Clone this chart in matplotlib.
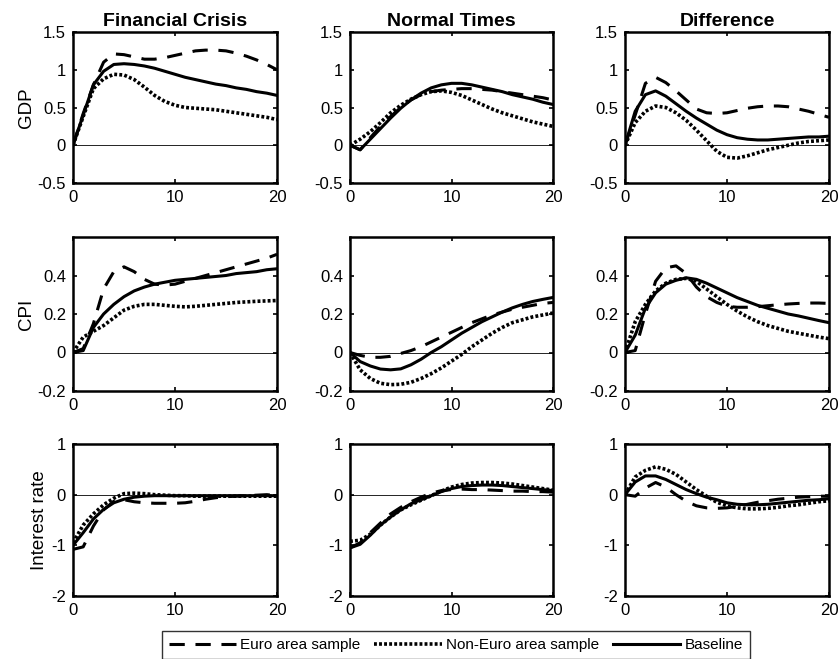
import numpy as np
import matplotlib
matplotlib.use('Agg')
import matplotlib.pyplot as plt

plt.rcParams['font.family'] = ['Liberation Sans', 'DejaVu Sans']

horizon = np.arange(21)

col_titles = ['Financial Crisis', 'Normal Times', 'Difference']
row_labels = ['GDP', 'CPI', 'Interest rate']
series_names = ['Euro area sample', 'Non-Euro area sample', 'Baseline']

# GDP
gdp_fc_euro = [0, 0.42, 0.8, 1.1, 1.21, 1.2, 1.17, 1.14, 1.14, 1.16, 1.19,
               1.22, 1.25, 1.26, 1.26, 1.25, 1.22, 1.18, 1.13, 1.07, 1.0]
gdp_fc_noneuro = [0, 0.38, 0.75, 0.88, 0.94, 0.93, 0.87, 0.77, 0.66, 0.58, 0.53,
                  0.5, 0.49, 0.48, 0.47, 0.45, 0.43, 0.41, 0.39, 0.37, 0.34]
gdp_fc_base = [0, 0.4, 0.8, 0.98, 1.07, 1.08, 1.07, 1.05, 1.02, 0.98, 0.94,
               0.9, 0.87, 0.84, 0.81, 0.79, 0.76, 0.74, 0.71, 0.69, 0.66]

gdp_nt_euro = [0, -0.06, 0.1, 0.25, 0.38, 0.5, 0.6, 0.67, 0.71, 0.73, 0.74,
               0.75, 0.75, 0.74, 0.73, 0.71, 0.69, 0.67, 0.65, 0.63, 0.6]
gdp_nt_noneuro = [0, 0.08, 0.18, 0.3, 0.43, 0.53, 0.61, 0.67, 0.71, 0.72, 0.7,
                  0.66, 0.6, 0.54, 0.48, 0.43, 0.39, 0.35, 0.31, 0.28, 0.25]
gdp_nt_base = [0, -0.06, 0.08, 0.22, 0.36, 0.49, 0.6, 0.69, 0.76, 0.8, 0.82,
               0.82, 0.8, 0.77, 0.74, 0.71, 0.67, 0.64, 0.61, 0.57, 0.54]

gdp_diff_euro = [0, 0.4, 0.82, 0.9, 0.83, 0.72, 0.6, 0.48, 0.43, 0.42, 0.43,
                 0.46, 0.49, 0.51, 0.52, 0.52, 0.51, 0.48, 0.45, 0.41, 0.37]
gdp_diff_noneuro = [0, 0.3, 0.45, 0.52, 0.5, 0.43, 0.33, 0.2, 0.06, -0.08, -0.16,
                    -0.17, -0.14, -0.1, -0.06, -0.03, 0.0, 0.03, 0.05, 0.06, 0.07]
gdp_diff_base = [0, 0.45, 0.67, 0.72, 0.65, 0.55, 0.45, 0.36, 0.28, 0.2, 0.14,
                 0.1, 0.08, 0.07, 0.07, 0.08, 0.09, 0.1, 0.11, 0.11, 0.12]

# CPI
cpi_fc_euro = [0, 0.02, 0.15, 0.33, 0.42, 0.445, 0.42, 0.38, 0.355, 0.35, 0.355,
               0.37, 0.385, 0.4, 0.415, 0.43, 0.445, 0.46, 0.475, 0.49, 0.51]
cpi_fc_noneuro = [0, 0.08, 0.11, 0.14, 0.18, 0.22, 0.24, 0.25, 0.25, 0.245, 0.24,
                  0.237, 0.24, 0.245, 0.25, 0.255, 0.26, 0.263, 0.266, 0.268, 0.27]
cpi_fc_base = [0, 0.01, 0.13, 0.2, 0.25, 0.29, 0.32, 0.34, 0.355, 0.365, 0.375,
               0.38, 0.385, 0.39, 0.395, 0.4, 0.41, 0.415, 0.42, 0.43, 0.435]

cpi_nt_euro = [0, -0.015, -0.025, -0.025, -0.02, -0.005, 0.01, 0.03, 0.055, 0.08, 0.105,
               0.13, 0.155, 0.175, 0.195, 0.21, 0.225, 0.235, 0.245, 0.255, 0.26]
cpi_nt_noneuro = [0, -0.09, -0.135, -0.16, -0.167, -0.165, -0.155, -0.135, -0.11, -0.08, -0.045,
                  -0.01, 0.03, 0.065, 0.1, 0.13, 0.155, 0.17, 0.185, 0.195, 0.205]
cpi_nt_base = [0, -0.047, -0.07, -0.086, -0.09, -0.085, -0.064, -0.035, 0.0, 0.03, 0.065,
               0.1, 0.13, 0.16, 0.185, 0.21, 0.232, 0.25, 0.265, 0.276, 0.286]

cpi_diff_euro = [0, 0.01, 0.2, 0.37, 0.44, 0.45, 0.41, 0.34, 0.29, 0.26, 0.24,
                 0.235, 0.235, 0.238, 0.243, 0.248, 0.252, 0.255, 0.257, 0.257, 0.255]
cpi_diff_noneuro = [0, 0.16, 0.25, 0.32, 0.36, 0.38, 0.385, 0.37, 0.33, 0.29, 0.25,
                    0.215, 0.185, 0.16, 0.14, 0.125, 0.11, 0.1, 0.09, 0.08, 0.072]
cpi_diff_base = [0, 0.09, 0.23, 0.31, 0.355, 0.375, 0.388, 0.38, 0.36, 0.335, 0.31,
                 0.285, 0.265, 0.245, 0.23, 0.215, 0.2, 0.19, 0.178, 0.166, 0.155]

# Interest rate
ir_fc_euro = [-1.08, -1.03, -0.62, -0.3, -0.13, -0.1, -0.14, -0.16, -0.17, -0.17, -0.17,
              -0.16, -0.13, -0.09, -0.06, -0.04, -0.03, -0.02, -0.01, 0.0, -0.02]
ir_fc_noneuro = [-0.95, -0.6, -0.38, -0.2, -0.07, 0.02, 0.03, 0.02, 0.0, -0.01, -0.02,
                 -0.02, -0.03, -0.03, -0.03, -0.03, -0.03, -0.03, -0.03, -0.03, -0.03]
ir_fc_base = [-1.0, -0.75, -0.48, -0.29, -0.16, -0.09, -0.05, -0.03, -0.02, -0.02, -0.02,
              -0.02, -0.02, -0.02, -0.02, -0.02, -0.02, -0.02, -0.02, -0.02, -0.02]

ir_nt_euro = [-1.05, -0.95, -0.75, -0.56, -0.38, -0.25, -0.14, -0.05, 0.03, 0.08, 0.1,
              0.11, 0.1, 0.1, 0.09, 0.08, 0.07, 0.07, 0.06, 0.06, 0.05]
ir_nt_noneuro = [-0.92, -0.9, -0.78, -0.6, -0.44, -0.3, -0.2, -0.11, -0.02, 0.07, 0.15,
                 0.2, 0.23, 0.24, 0.24, 0.23, 0.21, 0.18, 0.15, 0.12, 0.09]
ir_nt_base = [-1.05, -0.98, -0.8, -0.6, -0.44, -0.3, -0.18, -0.1, -0.02, 0.06, 0.12,
              0.16, 0.18, 0.19, 0.19, 0.18, 0.16, 0.14, 0.12, 0.1, 0.08]

ir_diff_euro = [0, -0.03, 0.13, 0.24, 0.15, 0.0, -0.13, -0.22, -0.26, -0.27, -0.26,
                -0.23, -0.19, -0.15, -0.12, -0.09, -0.07, -0.05, -0.04, -0.03, -0.03]
ir_diff_noneuro = [0, 0.35, 0.48, 0.55, 0.5, 0.4, 0.25, 0.1, -0.03, -0.15, -0.22,
                   -0.26, -0.28, -0.28, -0.27, -0.25, -0.22, -0.2, -0.17, -0.14, -0.12]
ir_diff_base = [0, 0.25, 0.37, 0.37, 0.3, 0.2, 0.1, 0.02, -0.05, -0.1, -0.16,
                -0.19, -0.2, -0.2, -0.19, -0.17, -0.15, -0.13, -0.11, -0.1, -0.08]

panels = [
    [(gdp_fc_euro, gdp_fc_noneuro, gdp_fc_base),
     (gdp_nt_euro, gdp_nt_noneuro, gdp_nt_base),
     (gdp_diff_euro, gdp_diff_noneuro, gdp_diff_base)],
    [(cpi_fc_euro, cpi_fc_noneuro, cpi_fc_base),
     (cpi_nt_euro, cpi_nt_noneuro, cpi_nt_base),
     (cpi_diff_euro, cpi_diff_noneuro, cpi_diff_base)],
    [(ir_fc_euro, ir_fc_noneuro, ir_fc_base),
     (ir_nt_euro, ir_nt_noneuro, ir_nt_base),
     (ir_diff_euro, ir_diff_noneuro, ir_diff_base)],
]

row_ylims = [(-0.5, 1.5), (-0.2, 0.6), (-2, 1)]
row_yticks = [[-0.5, 0, 0.5, 1, 1.5], [-0.2, 0, 0.2, 0.4], [-2, -1, 0, 1]]
row_yticklabels = [['-0.5', '0', '0.5', '1', '1.5'], ['-0.2', '0', '0.2', '0.4'],
                   ['-2', '-1', '0', '1']]

W, H = 840, 659
col_px = [(73, 277), (350, 553), (625, 829)]
row_px = [(32, 183), (237, 391), (444, 596)]

fig = plt.figure(figsize=(W / 100, H / 100), dpi=100)

styles = [dict(linestyle=(0, (5, 3.5)), linewidth=2.2, color='black'),
          dict(linestyle=(0, (0.8, 0.6)), linewidth=2.6, color='black'),
          dict(linestyle='-', linewidth=2.2, color='black')]

handles = []
for r in range(3):
    for c in range(3):
        x0, x1 = col_px[c]
        y0, y1 = row_px[r]
        ax = fig.add_axes([x0 / W, 1 - y1 / H, (x1 - x0) / W, (y1 - y0) / H])
        ax.axhline(0, color='black', linewidth=0.6)
        lines = []
        for s, st in zip(panels[r][c], styles):
            ln, = ax.plot(horizon, s, **st)
            lines.append(ln)
        if r == 0 and c == 0:
            handles = lines
        ax.set_xlim(0, 20)
        ax.set_ylim(*row_ylims[r])
        ax.set_xticks([0, 10, 20])
        ax.set_yticks(row_yticks[r])
        ax.set_yticklabels(row_yticklabels[r])
        ax.tick_params(direction='in', top=True, right=True, length=3,
                       width=1.2, labelsize=12, pad=5)
        for sp in ax.spines.values():
            sp.set_linewidth(1.8)
        if r == 0:
            ax.set_title(col_titles[c], fontsize=14, fontweight='bold', pad=4)
        if c == 0:
            ax.set_ylabel(row_labels[r], fontsize=13.5, labelpad=2)

fig.legend(handles, series_names, loc='upper center', ncol=3,
           bbox_to_anchor=(456 / W, 1 - 631 / H), fontsize=11,
           frameon=True, fancybox=False, edgecolor='black',
           handlelength=4.4, handletextpad=0.3, columnspacing=0.9,
           borderpad=0.45, borderaxespad=0)
leg = fig.legends[0]
leg.get_frame().set_linewidth(1.0)

fig.savefig('out.png', dpi=100)
